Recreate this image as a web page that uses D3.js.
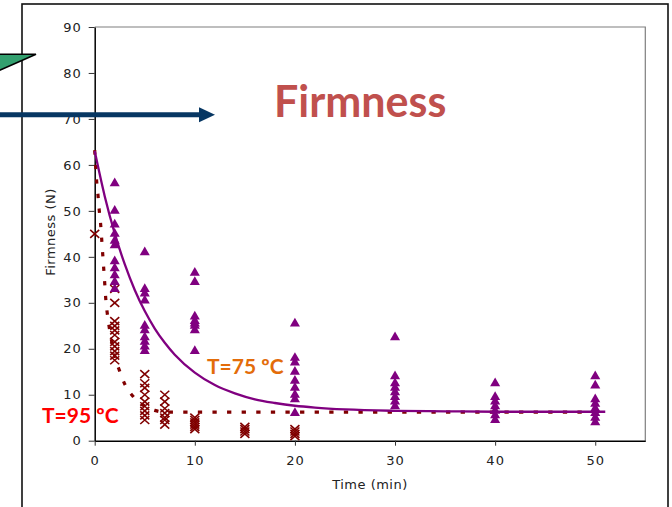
<!DOCTYPE html>
<html>
<head>
<meta charset="utf-8">
<title>Firmness</title>
<style>
body { margin: 0; background: #fff; }
.tick text { font-family: "DejaVu Sans", Verdana, sans-serif; font-size: 13px; letter-spacing: 1px; fill: #222; }
.lbl { font-family: "DejaVu Sans", Verdana, sans-serif; font-size: 13px; letter-spacing: 0.5px; fill: #222; }
.big { font-family: Lato, "Open Sans", sans-serif; font-weight: bold; }
</style>
</head>
<body>
<svg width="672" height="507"></svg>
<script src="https://d3js.org/d3.v7.min.js"></script>
<script>
// values
var xTicks = [0, 10, 20, 30, 40, 50];
var yTicks = [0, 10, 20, 30, 40, 50, 60, 70, 80, 90];

// T=75 ºC measurements (triangles)
var t75 = [2,2,2,2,2,2,2,2,2,2,2,
           5,5,5,5,5,5,5,5,5,5,
           10,10,10,10,10,10,10,10,
           20,20,20,20,20,20,20,20,20,
           30,30,30,30,30,30,30,30,
           40,40,40,40,40,40,40,
           50,50,50,50,50,50,50,50];
var f75 = [56,50,47,45,43.5,42.5,39,37.5,36,34.5,33,
           41,33,32,30.5,25,24,22.5,21.5,20.5,19.5,
           36.5,34.5,27,26,25.5,25,24,19.5,
           25.5,18,17,15,13,11.5,10,9,6,
           22.5,14,12.5,11.5,10.5,9.5,8.5,7.5,
           12.5,9.5,8.5,7.5,6.5,5.5,4.5,
           14,12,9,8,7,6,5,4];

// T=95 ºC measurements (crosses)
var t95 = [0,
           2,2,2,2,2,2,2,2,2,2,2,
           5,5,5,5,5,5,5,5,5,
           7,7,7,7,7,7,7,
           10,10,10,10,10,10,
           15,15,15,15,
           20,20,20,20];
var f95 = [45,
           33,30,26,25,24,23,21.5,20.5,19.5,18.5,17.5,
           14.5,12.5,11.5,10,8.5,7.5,6.5,5.5,4.5,
           10,8.5,7,6,5,4.5,3.5,
           5,4.5,4,3.5,3,2.5,
           3,2.5,2,1.5,
           2.5,2,1.5,1];

// fitted curves as drawn
var fit75T = [0,1,2,3,4,5,6,7,8,10,12,14,16,18,20,22,25,30,35,40,45,51];
var fit75F = [63,53.2,45.1,38.4,32.8,28.2,24.4,21.3,18.7,14.8,12.1,10.3,9,8.2,7.6,7.2,6.8,6.5,6.4,6.3,6.3,6.3];
var fit95T = [0,0.1,0.2,0.33,0.45,0.6,0.7,0.8,0.9,1,1.1,1.25,1.5,1.8,2.1,2.45,3.05,3.85,5,6,7,51];
var fit95F = [63.2,59.6,56.3,53.4,50.2,46.9,43.8,40.6,37.5,34.3,31,27.8,24,20.5,17.5,15.4,12.1,9.6,7.5,6.6,6.2,6.2];

var svg = d3.select("svg");

var x = d3.scaleLinear().domain([0, 55]).range([94.7, 645.3]);
var y = d3.scaleLinear().domain([0, 90]).range([440.7, 27]);

// outer slide frame
svg.append("rect")
    .attr("x", 22).attr("y", 4)
    .attr("width", 646).attr("height", 520)
    .attr("fill", "none").attr("stroke", "#111").attr("stroke-width", 1.6);

// plot area frame (top / right)
svg.append("path")
    .attr("d", "M" + x(0) + "," + y(90) + "H" + x(55) + "V" + y(0))
    .attr("fill", "none").attr("stroke", "#7f7f7f").attr("stroke-width", 1.2);

var gx = svg.append("g")
    .attr("transform", "translate(0," + y(0) + ")")
    .call(d3.axisBottom(x).tickValues(xTicks).tickSize(5).tickPadding(10).tickSizeOuter(0));
var gy = svg.append("g")
    .attr("transform", "translate(" + x(0) + ",0)")
    .call(d3.axisLeft(y).tickValues(yTicks).tickSize(6).tickPadding(7).tickSizeOuter(0));
gx.select(".domain").attr("stroke", "#000").attr("stroke-width", 1.5);
gy.select(".domain").attr("stroke", "#000").attr("stroke-width", 1.5);
svg.selectAll(".tick line").attr("stroke", "#333");
svg.selectAll(".tick text").attr("font-family", null).attr("font-size", null);

svg.append("text").attr("class", "lbl")
    .attr("x", 370).attr("y", 489)
    .attr("text-anchor", "middle")
    .text("Time (min)");
svg.append("text").attr("class", "lbl")
    .attr("transform", "translate(55,232) rotate(-90)")
    .attr("text-anchor", "middle")
    .text("Firmness (N)");

// fitted lines
var line = d3.line()
    .x(function(d) { return x(d[0]); })
    .y(function(d) { return y(d[1]); })
    .curve(d3.curveMonotoneX);

svg.append("path")
    .attr("d", line(d3.zip(fit95T, fit95F)))
    .attr("fill", "none").attr("stroke", "#800000")
    .attr("stroke-width", 3.2).attr("stroke-dasharray", "4.3,10.3");

svg.append("path")
    .attr("d", line(d3.zip(fit75T, fit75F)))
    .attr("fill", "none").attr("stroke", "#800080").attr("stroke-width", 2.3);

// markers
svg.append("g").selectAll("path")
    .data(d3.zip(t95, f95))
  .enter().append("path")
    .attr("transform", function(d) { return "translate(" + x(d[0]) + "," + y(d[1]) + ")"; })
    .attr("d", "M-4.5,-4L4.5,4M-4.5,4L4.5,-4")
    .attr("stroke", "#800000").attr("stroke-width", 1.6).attr("fill", "none");

svg.append("g").selectAll("path")
    .data(d3.zip(t75, f75))
  .enter().append("path")
    .attr("transform", function(d) { return "translate(" + x(d[0]) + "," + y(d[1]) + ")"; })
    .attr("d", d3.symbol(d3.symbolTriangle, 44))
    .attr("fill", "#800080");

// labels
svg.append("text").attr("class", "big")
    .attr("x", 274).attr("y", 117)
    .attr("font-size", 43).attr("fill", "#c0504d")
    .text("Firmness");
svg.append("text").attr("class", "big")
    .attr("x", 207).attr("y", 374)
    .attr("font-size", 21).attr("fill", "#e36c0a")
    .text("T=75 ºC");
svg.append("text").attr("class", "big")
    .attr("x", 42).attr("y", 423)
    .attr("font-size", 21).attr("fill", "#ff0000")
    .text("T=95 ºC");

// callout shapes on the left
svg.append("path")
    .attr("d", "M-2,54.3L36,54.3L-2,71Z")
    .attr("fill", "#33a06f").attr("stroke", "#000").attr("stroke-width", 1.5);

svg.append("line")
    .attr("x1", 0).attr("y1", 114.7).attr("x2", 201).attr("y2", 114.7)
    .attr("stroke", "#073763").attr("stroke-width", 5);
svg.append("path")
    .attr("d", "M199,107.3L215,114.7L199,122.3Z")
    .attr("fill", "#073763");
</script>
</body>
</html>
